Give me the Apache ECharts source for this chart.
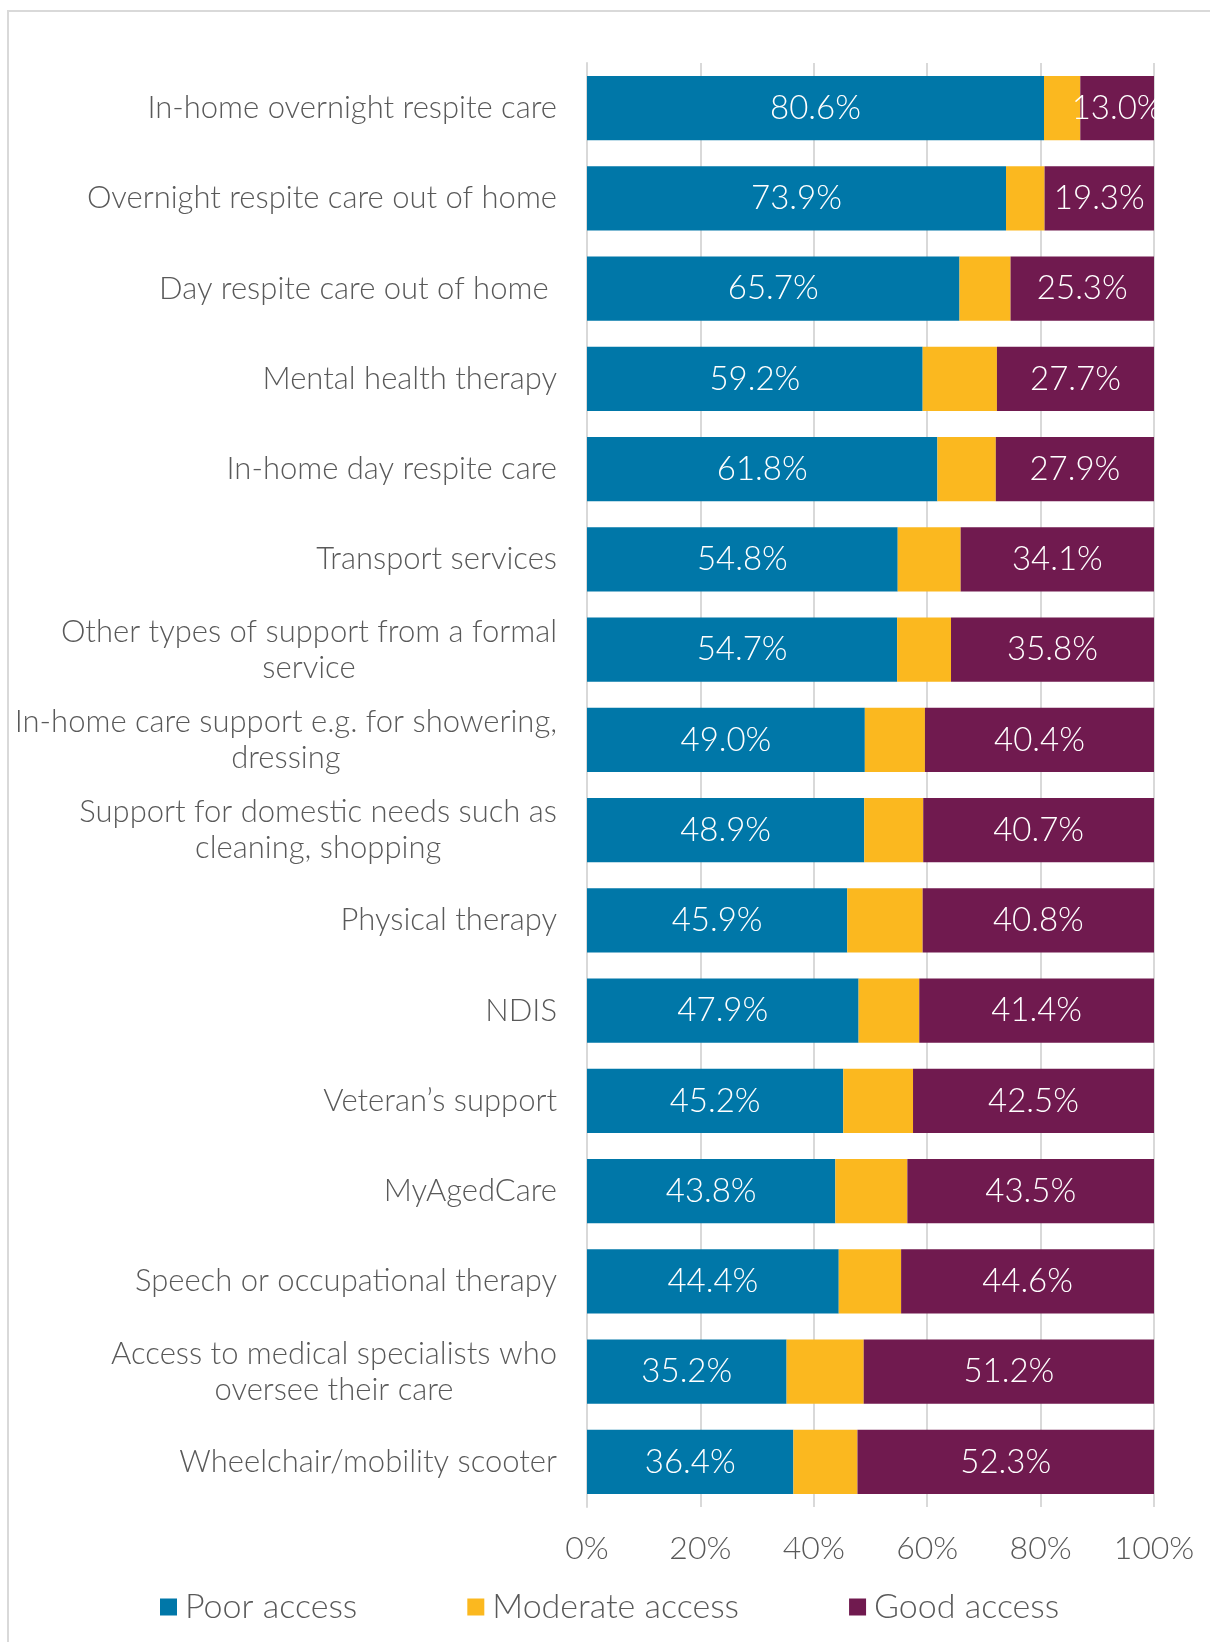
<!DOCTYPE html>
<html>
<head>
<meta charset="utf-8">
<script src="https://cdn.jsdelivr.net/npm/echarts@6/dist/echarts.min.js"></script>
<style>
  html, body { margin: 0; padding: 0; background: #ffffff; }
  #chart { width: 1210px; height: 1642px; }
</style>
</head>
<body>
<div id="chart"></div>
<script>
// Services, listed top to bottom
const categories = [
  'In-home overnight respite care',
  'Overnight respite care out of home',
  'Day respite care out of home ',
  'Mental health therapy',
  'In-home day respite care',
  'Transport services',
  'Other types of support from a formal\nservice',
  'In-home care support e.g. for showering,\ndressing',
  'Support for domestic needs such as\ncleaning, shopping',
  'Physical therapy',
  'NDIS',
  'Veteran\u2019s support',
  'MyAgedCare',
  'Speech or occupational therapy',
  'Access to medical specialists who\noversee their care',
  'Wheelchair/mobility scooter'
];

// Share of respondents (%) per access level
const poorAccess     = [80.6, 73.9, 65.7, 59.2, 61.8, 54.8, 54.7, 49.0, 48.9, 45.9, 47.9, 45.2, 43.8, 44.4, 35.2, 36.4];
const moderateAccess = [6.4, 6.8, 9.0, 13.1, 10.3, 11.1, 9.5, 10.6, 10.4, 13.3, 10.7, 12.3, 12.7, 11.0, 13.6, 11.3];
const goodAccess     = [13.0, 19.3, 25.3, 27.7, 27.9, 34.1, 35.8, 40.4, 40.7, 40.8, 41.4, 42.5, 43.5, 44.6, 51.2, 52.3];

const xTicks = [0, 20, 40, 60, 80, 100];

const FONT = 'Lato';
const WEIGHT = 300;
const TEXT = '#595959';
const COLORS = { poor: '#0077a8', moderate: '#fbb81f', good: '#701a4f' };

const chart = echarts.init(document.getElementById('chart'), null, { renderer: 'canvas' });

const valueLabel = {
  show: true,
  position: 'inside',
  color: '#ffffff',
  fontFamily: FONT,
  fontWeight: WEIGHT,
  fontSize: 33,
  formatter: p => p.value.toFixed(1) + '%'
};

chart.setOption({
  animation: false,
  backgroundColor: '#ffffff',
  textStyle: { fontFamily: FONT, fontWeight: WEIGHT },
  graphic: [{
    type: 'rect',
    silent: true,
    shape: { x: 8, y: 11, width: 1400, height: 1800 },
    style: { fill: 'none', stroke: '#d9d9d9', lineWidth: 2 }
  }],
  legend: {
    bottom: 13,
    left: 155,
    itemWidth: 17,
    itemHeight: 17,
    itemGap: 110,
    icon: 'rect',
    textStyle: { color: TEXT, fontSize: 34, fontFamily: FONT, fontWeight: WEIGHT, padding: [0, 0, 0, 3] },
    data: ['Poor access', 'Moderate access', 'Good access']
  },
  grid: { left: 587, right: 56, top: 63, bottom: 135, containLabel: false },
  xAxis: {
    type: 'value',
    min: 0,
    max: 100,
    interval: 20,
    axisLine: { show: false },
    axisTick: { show: false },
    splitLine: { show: true, lineStyle: { color: '#d9d9d9', width: 2 } },
    axisLabel: {
      color: TEXT,
      fontSize: 32,
      fontFamily: FONT,
      fontWeight: WEIGHT,
      margin: 26,
      customValues: xTicks,
      formatter: v => v + '%'
    }
  },
  yAxis: {
    type: 'category',
    inverse: true,
    data: categories,
    axisLine: { show: true, lineStyle: { color: '#d9d9d9', width: 2 } },
    axisTick: { show: false },
    axisLabel: {
      color: TEXT,
      fontSize: 31,
      fontFamily: FONT,
      fontWeight: WEIGHT,
      margin: 30,
      lineHeight: 36,
      formatter: v => v.split('\n').map(line => '{c|' + line + '}').join('\n'),
      rich: {
        c: { align: 'center', color: TEXT, fontSize: 31, fontFamily: FONT, fontWeight: WEIGHT, lineHeight: 36 }
      }
    }
  },
  series: [
    {
      name: 'Poor access',
      type: 'bar',
      stack: 'access',
      barCategoryGap: '29%',
      itemStyle: { color: COLORS.poor },
      label: valueLabel,
      data: poorAccess
    },
    {
      name: 'Moderate access',
      type: 'bar',
      stack: 'access',
      itemStyle: { color: COLORS.moderate },
      label: { show: false },
      data: moderateAccess
    },
    {
      name: 'Good access',
      type: 'bar',
      stack: 'access',
      itemStyle: { color: COLORS.good },
      label: valueLabel,
      data: goodAccess
    }
  ]
});
</script>
</body>
</html>
